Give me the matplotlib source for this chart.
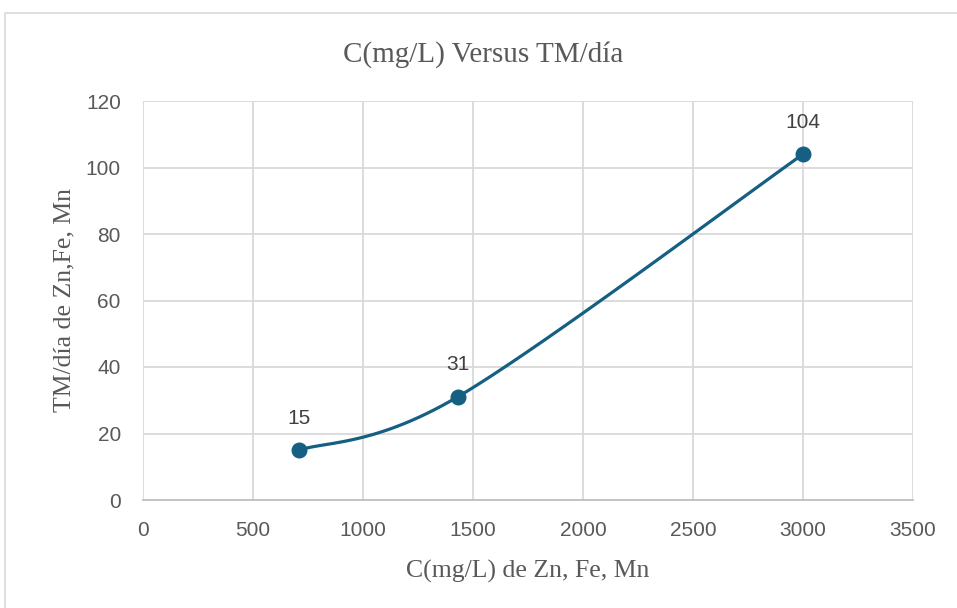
import numpy as np
import matplotlib.pyplot as plt
from matplotlib.patches import Rectangle

# data
conc = [710, 1430, 3000]        # C(mg/L) de Zn, Fe, Mn
tm_dia = [15, 31, 104]          # TM/día
point_labels = ["15", "31", "104"]

x_ticks = [0, 500, 1000, 1500, 2000, 2500, 3000, 3500]
y_ticks = [0, 20, 40, 60, 80, 100, 120]

line_col = "#156082"
text_col = "#595959"
grid_col = "#d9d9d9"
serif = "Liberation Serif"
sans = "Liberation Sans"


def smooth_curve(xs, ys, sx, sy, n=60):
    # Excel style smoothing: cubic bezier through points, control points
    # from neighbouring points (catmull-rom), worked out in screen scale
    px = np.asarray(xs, float) * sx
    py = np.asarray(ys, float) * sy
    pts = np.column_stack([px, py])
    m = len(pts)
    out = [pts[0]]
    t = np.linspace(0, 1, n)[1:, None]
    for i in range(m - 1):
        p0 = pts[i - 1] if i > 0 else pts[i]
        p1, p2 = pts[i], pts[i + 1]
        p3 = pts[i + 2] if i + 2 < m else pts[i + 1]
        c1 = p1 + (p2 - p0) / 6
        c2 = p2 - (p3 - p1) / 6
        seg = ((1 - t) ** 3) * p1 + 3 * ((1 - t) ** 2) * t * c1 \
            + 3 * (1 - t) * t ** 2 * c2 + t ** 3 * p2
        out.extend(seg)
    out = np.array(out)
    return out[:, 0] / sx, out[:, 1] / sy


fig = plt.figure(figsize=(9.57, 6.08), dpi=100)
ax = fig.add_axes([143 / 957, 108 / 608, 770 / 957, 399 / 608])

# chart area border
fig.patches.append(Rectangle((5 / 957, -0.1), 1.1, 1.1 - 13 / 608 + 0.0,
                             transform=fig.transFigure, fill=False,
                             edgecolor=grid_col, linewidth=1.2))

ax.set_xlim(0, 3500)
ax.set_ylim(0, 120)
ax.set_xticks(x_ticks)
ax.set_yticks(y_ticks)
ax.grid(True, color=grid_col, linewidth=1.3)
ax.set_axisbelow(True)
for side in ["top", "right", "left"]:
    ax.spines[side].set_visible(False)
ax.spines["bottom"].set_color("#bfbfbf")
ax.spines["bottom"].set_linewidth(1.3)
ax.tick_params(length=0, labelsize=15, labelcolor=text_col)
ax.tick_params(axis="y", pad=16)
ax.tick_params(axis="x", pad=15)
for lab in ax.get_xticklabels() + ax.get_yticklabels():
    lab.set_fontfamily(sans)

sx = 770 / 3500
sy = 399 / 120
cx, cy = smooth_curve(conc, tm_dia, sx, sy)
ax.plot(cx, cy, color=line_col, linewidth=2.3, solid_capstyle="round", zorder=3)
ax.plot(conc, tm_dia, "o", color=line_col, markersize=10.5, zorder=4)

for x, y, s in zip(conc, tm_dia, point_labels):
    ax.annotate(s, (x, y), xytext=(0, 23), textcoords="offset points",
                ha="center", va="center", fontsize=15, color="#404040",
                family=sans)

fig.text(483 / 957, 1 - 55 / 608, "C(mg/L) Versus TM/día",
         ha="center", va="center", fontsize=21, color=text_col, family=serif)
fig.text(528 / 957, 1 - 571 / 608, "C(mg/L) de Zn, Fe, Mn",
         ha="center", va="center", fontsize=18.5, color=text_col, family=serif)
fig.text(64 / 957, 1 - 300 / 608, "TM/día de Zn,Fe, Mn", rotation=90,
         ha="center", va="center", fontsize=18.5, color=text_col, family=serif)

fig.savefig("out.png", dpi=100)
